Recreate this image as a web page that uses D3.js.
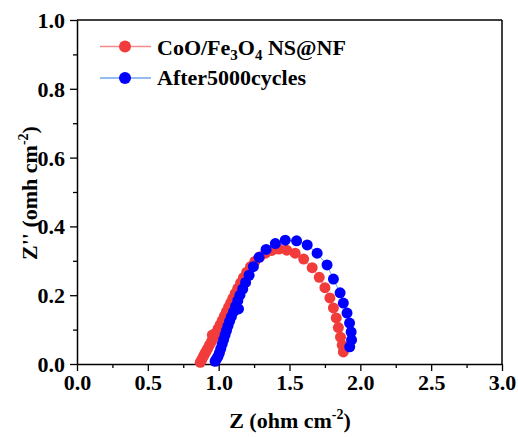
<!DOCTYPE html>
<html><head><meta charset="utf-8">
<script src="https://cdn.jsdelivr.net/npm/d3@7"></script>
<style>body{margin:0;background:#fff}</style>
</head><body><svg id="c" width="518" height="437" font-family="Liberation Serif" font-weight="bold"></svg>
<script>
const seriesNames = ["CoO/Fe3O4 NS@NF", "After5000cycles"];
const redX = [0.870,0.880,0.890,0.900,0.910,0.922,0.935,0.955,0.950,0.965,0.980,0.995,1.010,1.025,1.040,1.055,1.070,1.085,1.100,1.117,1.135,1.155,1.175,1.198,1.225,1.255,1.290,1.330,1.375,1.425,1.480,1.540,1.600,1.660,1.710,1.750,1.785,1.810,1.830,1.845,1.860,1.872,1.880];
const redY = [0.005,0.012,0.020,0.028,0.036,0.045,0.055,0.084,0.066,0.078,0.090,0.102,0.114,0.126,0.139,0.152,0.165,0.178,0.191,0.205,0.220,0.236,0.251,0.267,0.283,0.298,0.311,0.322,0.330,0.334,0.331,0.322,0.305,0.280,0.252,0.222,0.192,0.163,0.134,0.106,0.078,0.055,0.035];
const blueX = [0.975,0.985,0.995,1.005,1.015,1.025,1.035,1.045,1.055,1.065,1.077,1.090,1.105,1.140,1.120,1.135,1.150,1.170,1.190,1.215,1.245,1.285,1.335,1.400,1.470,1.550,1.625,1.695,1.765,1.810,1.857,1.880,1.906,1.924,1.935,1.938,1.925];
const blueY = [0.008,0.015,0.022,0.032,0.045,0.058,0.071,0.084,0.097,0.110,0.124,0.138,0.152,0.160,0.168,0.184,0.200,0.218,0.237,0.258,0.283,0.310,0.333,0.350,0.360,0.358,0.346,0.322,0.288,0.247,0.207,0.177,0.148,0.119,0.093,0.070,0.050];
const xTicks = [0,0.5,1.0,1.5,2.0,2.5,3.0];
const yTicks = [0,0.2,0.4,0.6,0.8,1.0];

const FONT = "Liberation Serif";
const svg = d3.select("#c");
const L=77, R=502, T=20, B=364;
const x = d3.scaleLinear().domain([0,3]).range([L,R]);
const y = d3.scaleLinear().domain([0,1]).range([B,T]);

const xMinor = d3.range(0.25,3,0.5);
const yMinor = d3.range(0.1,1,0.2);
const xa = svg.append("g").attr("transform",`translate(0,${B})`)
  .call(d3.axisBottom(x).tickValues(xTicks).tickFormat(d3.format(".1f")).tickSize(7).tickPadding(3).tickSizeOuter(0));
svg.append("g").attr("transform",`translate(0,${B})`)
  .call(d3.axisBottom(x).tickValues(xMinor).tickFormat("").tickSize(4).tickSizeOuter(0)).select(".domain").remove();
const ya = svg.append("g").attr("transform",`translate(${L},0)`)
  .call(d3.axisLeft(y).tickValues(yTicks).tickFormat(d3.format(".1f")).tickSize(7).tickPadding(5).tickSizeOuter(0));
svg.append("g").attr("transform",`translate(${L},0)`)
  .call(d3.axisLeft(y).tickValues(yMinor).tickFormat("").tickSize(4).tickSizeOuter(0)).select(".domain").remove();
svg.selectAll("g").attr("font-family",null).attr("font-size",null);
svg.selectAll(".tick line").attr("stroke","#000").attr("stroke-width",1.3);
svg.selectAll(".domain").attr("stroke","#000").attr("stroke-width",1.5);
xa.selectAll("text").attr("font-size",22).attr("font-family",FONT).attr("font-weight","bold");
ya.selectAll("text").attr("font-size",22).attr("font-family",FONT).attr("font-weight","bold").attr("dy","0.34em");

svg.append("line").attr("x1",L).attr("x2",R).attr("y1",T).attr("y2",T).attr("stroke","#000").attr("stroke-width",1.5);
svg.append("line").attr("x1",R).attr("x2",R).attr("y1",T).attr("y2",B).attr("stroke","#000").attr("stroke-width",1.5);

const series = [
  {xs:redX, ys:redY, line:"#f48a8a", fill:"#f23c3c"},
  {xs:blueX, ys:blueY, line:"#6ea6ee", fill:"#0000ff"}
];
const line = d3.line().x(d=>x(d[0])).y(d=>y(d[1]));
series.forEach(s=>{
  const pts = s.xs.map((v,i)=>[v,s.ys[i]]);
  svg.append("path").datum(pts).attr("d",line).attr("fill","none").attr("stroke",s.line).attr("stroke-width",1);
  svg.append("g").selectAll("circle").data(pts).join("circle")
    .attr("cx",d=>x(d[0])).attr("cy",d=>y(d[1])).attr("r",5.5).attr("fill",s.fill);
});

const lg = svg.append("g");
[0,1].forEach(i=>{
  const yy = 46.5 + i*31.5;
  lg.append("line").attr("x1",100).attr("x2",151).attr("y1",yy).attr("y2",yy).attr("stroke",series[i].line).attr("stroke-width",1.5);
  lg.append("circle").attr("cx",125).attr("cy",yy).attr("r",6).attr("fill",series[i].fill);
});
const t1 = lg.append("text").attr("x",157).attr("y",55).attr("font-size",22).attr("font-family",FONT).attr("font-weight","bold");
t1.append("tspan").text("CoO/Fe");
t1.append("tspan").text("3").attr("font-size",15).attr("dy",5);
t1.append("tspan").text("O").attr("dy",-5);
t1.append("tspan").text("4").attr("font-size",15).attr("dy",5);
t1.append("tspan").text(" NS@NF").attr("dy",-5);
lg.append("text").attr("x",157).attr("y",85).attr("font-size",22).attr("font-family",FONT).attr("font-weight","bold").text(seriesNames[1]);

const xt = svg.append("text").attr("x",290).attr("y",428).attr("text-anchor","middle").attr("font-size",22).attr("font-family",FONT).attr("font-weight","bold");
xt.append("tspan").text("Z (ohm cm");
xt.append("tspan").text("-2").attr("font-size",14).attr("dy",-9);
xt.append("tspan").text(")").attr("dy",9);
const yt = svg.append("text").attr("transform","translate(37,193) rotate(-90)").attr("text-anchor","middle").attr("font-size",22).attr("font-family",FONT).attr("font-weight","bold");
yt.append("tspan").text("Z'' (omh cm");
yt.append("tspan").text("-2").attr("font-size",14).attr("dy",-9);
yt.append("tspan").text(")").attr("dy",9);
</script></body></html>
